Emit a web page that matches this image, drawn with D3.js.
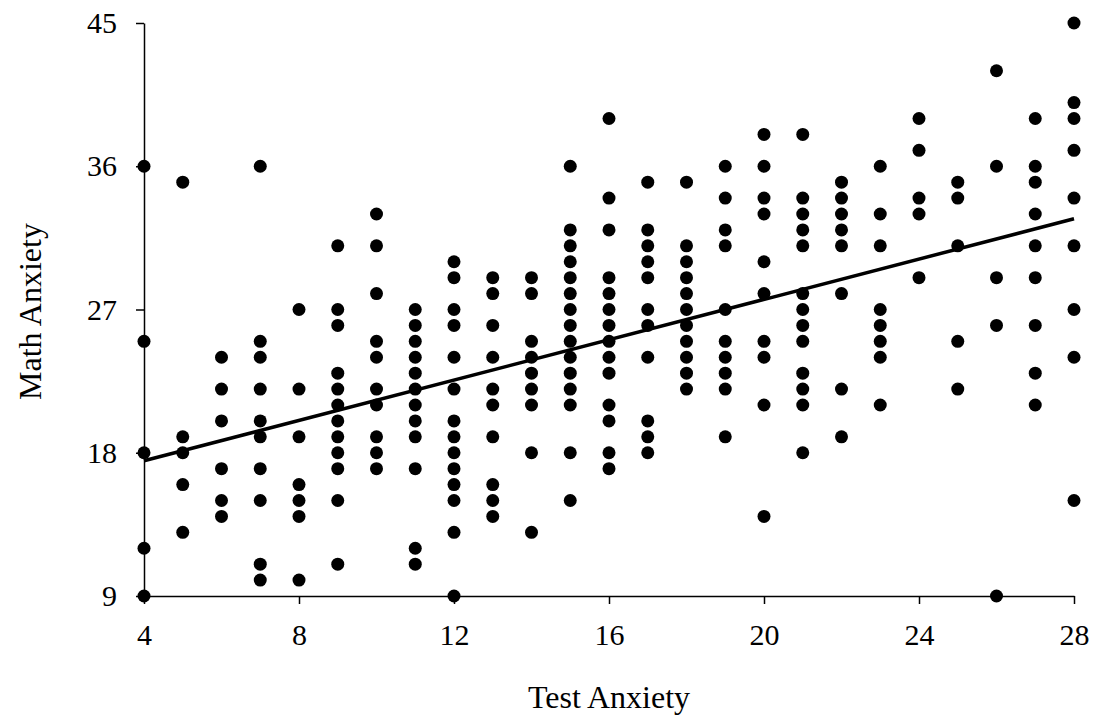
<!DOCTYPE html>
<html>
<head>
<meta charset="utf-8">
<script src="https://cdn.jsdelivr.net/npm/d3@7"></script>
<style>
  body { margin: 0; background: #fff; }
  svg text { font-family: "Liberation Serif", "Times New Roman", serif; fill: #000; }
</style>
</head>
<body>
<div id="chart"></div>
<script>
// test anxiety scores (x) and the math anxiety scores seen at each of them (y)
var testAnxiety = [4, 5, 6, 7, 8, 9, 10, 11, 12, 13, 14, 15, 16, 17, 18, 19, 20, 21, 22, 23, 24, 25, 26, 27, 28];
var mathAnxiety = [
  [36, 25, 18, 12, 9],
  [35, 19, 18, 16, 13],
  [24, 22, 20, 17, 15, 14],
  [36, 25, 24, 22, 20, 19, 17, 15, 11, 10],
  [27, 22, 19, 16, 15, 14, 10],
  [31, 27, 26, 23, 22, 21, 20, 19, 18, 17, 15, 11],
  [33, 31, 28, 25, 24, 22, 21, 19, 18, 17],
  [27, 26, 25, 24, 23, 22, 21, 20, 19, 17, 12, 11],
  [30, 29, 27, 26, 24, 22, 20, 19, 18, 17, 16, 15, 13, 9],
  [29, 28, 26, 24, 22, 21, 19, 16, 15, 14],
  [29, 28, 25, 24, 23, 22, 21, 18, 13],
  [36, 32, 31, 30, 29, 28, 27, 26, 25, 24, 23, 22, 21, 18, 15],
  [39, 34, 32, 29, 28, 27, 26, 25, 24, 23, 21, 20, 18, 17],
  [35, 32, 31, 30, 29, 27, 26, 24, 20, 19, 18],
  [35, 31, 30, 29, 28, 27, 26, 25, 24, 23, 22],
  [36, 34, 32, 31, 27, 25, 24, 23, 22, 19],
  [38, 36, 34, 33, 30, 28, 25, 24, 21, 14],
  [38, 34, 33, 32, 31, 28, 27, 26, 25, 23, 22, 21, 18],
  [35, 34, 33, 32, 31, 28, 22, 19],
  [36, 33, 31, 27, 26, 25, 24, 21],
  [39, 37, 34, 33, 29],
  [35, 34, 31, 25, 22],
  [42, 36, 29, 26, 9],
  [39, 36, 35, 33, 31, 29, 26, 23, 21],
  [45, 40, 39, 37, 34, 31, 27, 24, 15]
];
// fitted line, read at the two ends of the x range
var trendX = [4, 28];
var trendY = [17.5, 32.7];
var xTicks = [4, 8, 12, 16, 20, 24, 28];
var yTicks = [9, 18, 27, 36, 45];

var svgWidth = 1096;
var svgHeight = 719;
var margin = { top: 23, right: 22, bottom: 123, left: 144 };
var width = svgWidth - margin.left - margin.right;
var height = svgHeight - margin.top - margin.bottom;

var svg = d3.select("#chart")
  .append("svg")
  .attr("width", svgWidth)
  .attr("height", svgHeight);

var chart = svg.append("g")
  .attr("transform", "translate(" + margin.left + "," + margin.top + ")");

// flatten the columns into points
var points = [];
testAnxiety.forEach(function(t, i) {
  mathAnxiety[i].forEach(function(m) {
    points.push({ test: t, math: m });
  });
});

var xScale = d3.scaleLinear().domain([4, 28]).range([0, width]);
var yScale = d3.scaleLinear().domain([9, 45]).range([height, 0]);

// axes
var xAxis = d3.axisBottom(xScale)
  .tickValues(xTicks)
  .tickSize(8)
  .tickSizeOuter(0)
  .tickPadding(20);

var yAxis = d3.axisLeft(yScale)
  .tickValues(yTicks)
  .tickSize(8)
  .tickSizeOuter(0)
  .tickPadding(19);

var gx = chart.append("g")
  .attr("transform", "translate(0," + height + ")")
  .call(xAxis);

var gy = chart.append("g").call(yAxis);

[gx, gy].forEach(function(g) {
  g.selectAll("path, line").attr("stroke", "#000").attr("stroke-width", 1.5);
  g.selectAll("text")
    .attr("font-size", 30)
    .attr("font-family", "'Liberation Serif', 'Times New Roman', serif")
    .attr("fill", "#000");
});

// trend line
var trend = trendX.map(function(x, i) { return { test: x, math: trendY[i] }; });

var createLine = d3.line()
  .x(d => xScale(d.test))
  .y(d => yScale(d.math));

chart.append("path")
  .attr("d", createLine(trend))
  .attr("fill", "none")
  .attr("stroke", "#000")
  .attr("stroke-width", 3.5);

// points
chart.selectAll("circle")
  .data(points)
  .enter()
  .append("circle")
  .attr("cx", d => xScale(d.test))
  .attr("cy", d => yScale(d.math))
  .attr("r", 6.5)
  .attr("fill", "#000");

// axis titles
svg.append("text")
  .attr("x", margin.left + width / 2)
  .attr("y", 708)
  .attr("text-anchor", "middle")
  .attr("font-size", 32)
  .text("Test Anxiety");

svg.append("text")
  .attr("transform", "translate(41," + (margin.top + height / 2 + 2) + ") rotate(-90)")
  .attr("text-anchor", "middle")
  .attr("font-size", 32)
  .text("Math Anxiety");
</script>
</body>
</html>
